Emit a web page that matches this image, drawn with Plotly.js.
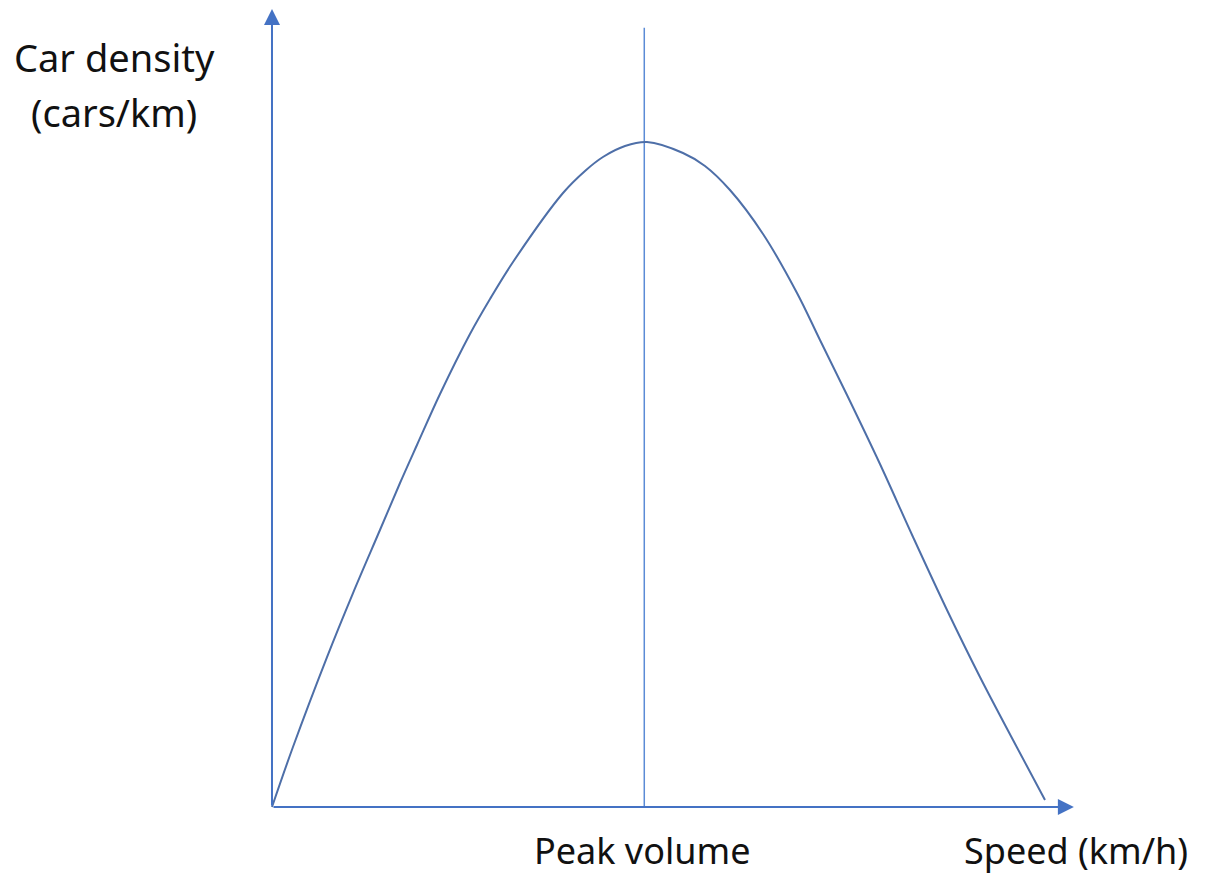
<!DOCTYPE html>
<html>
<head>
<meta charset="utf-8">
<script src="https://cdn.plot.ly/plotly-3.0.1.min.js"></script>
<style>
  html, body { margin: 0; padding: 0; background: #fff; }
  #chart { width: 1209px; height: 879px; }
</style>
</head>
<body>
<div id="chart"></div>
<script>
// curve (relative units, 0-100)
var speed = [0, 2.71, 7.11, 10.47, 13.95, 16.54, 18.73, 21.71, 25.58, 28.17, 31.14, 37.60, 40.44, 42.76, 45.61, 48.45,
             53.10, 55.94, 59.17, 63.44, 67.83, 70.80, 74.29, 78.55, 82.82, 87.21, 91.47, 95.74, 99.87];
var density = [0, 9.01, 22.52, 32.13, 41.59, 48.65, 54.35, 62.01, 71.02, 76.28, 81.83, 92.19, 95.50, 97.60, 99.25, 99.85,
               98.20, 96.25, 92.64, 86.04, 77.18, 70.12, 61.86, 51.50, 40.54, 29.58, 19.52, 10.06, 1.05];

var peakSpeed = 48.1;
var peakLineTop = 117;
var xAxisEnd = 103.6;
var yAxisEnd = 119.8;

var axisColor = '#4472C4';
var curveColor = '#4E6FA8';

var curve = {
    x: speed,
    y: density,
    type: 'scatter',
    mode: 'lines',
    line: {color: curveColor, width: 2, shape: 'spline', smoothing: 1},
    hoverinfo: 'skip'
};

var peakLine = {
    x: [peakSpeed, peakSpeed],
    y: [0, peakLineTop],
    type: 'scatter',
    mode: 'lines',
    line: {color: '#5B8BD6', width: 1.5},
    hoverinfo: 'skip'
};

var labelFont = {family: 'Noto Sans, sans-serif', size: 38, color: '#111'};
var bottomFont = {family: 'Noto Sans, sans-serif', size: 36, color: '#111'};

var layout = {
    width: 1209,
    height: 879,
    margin: {l: 0, r: 0, t: 0, b: 0},
    paper_bgcolor: '#fff',
    plot_bgcolor: '#fff',
    showlegend: false,
    xaxis: {range: [-35.14, 121.06], visible: false, fixedrange: true},
    yaxis: {range: [-10.81, 121.17], visible: false, fixedrange: true},
    annotations: [
        // y axis with arrow
        {x: 0, y: yAxisEnd, ax: 0, ay: 0, xref: 'x', yref: 'y', axref: 'x', ayref: 'y',
         text: '', showarrow: true, arrowhead: 2, arrowsize: 1.6, arrowwidth: 2, arrowcolor: axisColor},
        // x axis with arrow
        {x: xAxisEnd, y: 0, ax: 0, ay: 0, xref: 'x', yref: 'y', axref: 'x', ayref: 'y',
         text: '', showarrow: true, arrowhead: 2, arrowsize: 1.6, arrowwidth: 2, arrowcolor: axisColor},
        {x: 0.0943, y: 0.935, xref: 'paper', yref: 'paper', text: 'Car density',
         showarrow: false, font: labelFont, xanchor: 'center', yanchor: 'middle'},
        {x: 0.0943, y: 0.873, xref: 'paper', yref: 'paper', text: '(cars/km)',
         showarrow: false, font: labelFont, xanchor: 'center', yanchor: 'middle'},
        {x: 0.531, y: 0.032, xref: 'paper', yref: 'paper', text: 'Peak volume',
         showarrow: false, font: bottomFont, xanchor: 'center', yanchor: 'middle'},
        {x: 0.8896, y: 0.032, xref: 'paper', yref: 'paper', text: 'Speed (km/h)',
         showarrow: false, font: bottomFont, xanchor: 'center', yanchor: 'middle'}
    ]
};

Plotly.newPlot('chart', [peakLine, curve], layout, {staticPlot: true, displayModeBar: false});
</script>
</body>
</html>
